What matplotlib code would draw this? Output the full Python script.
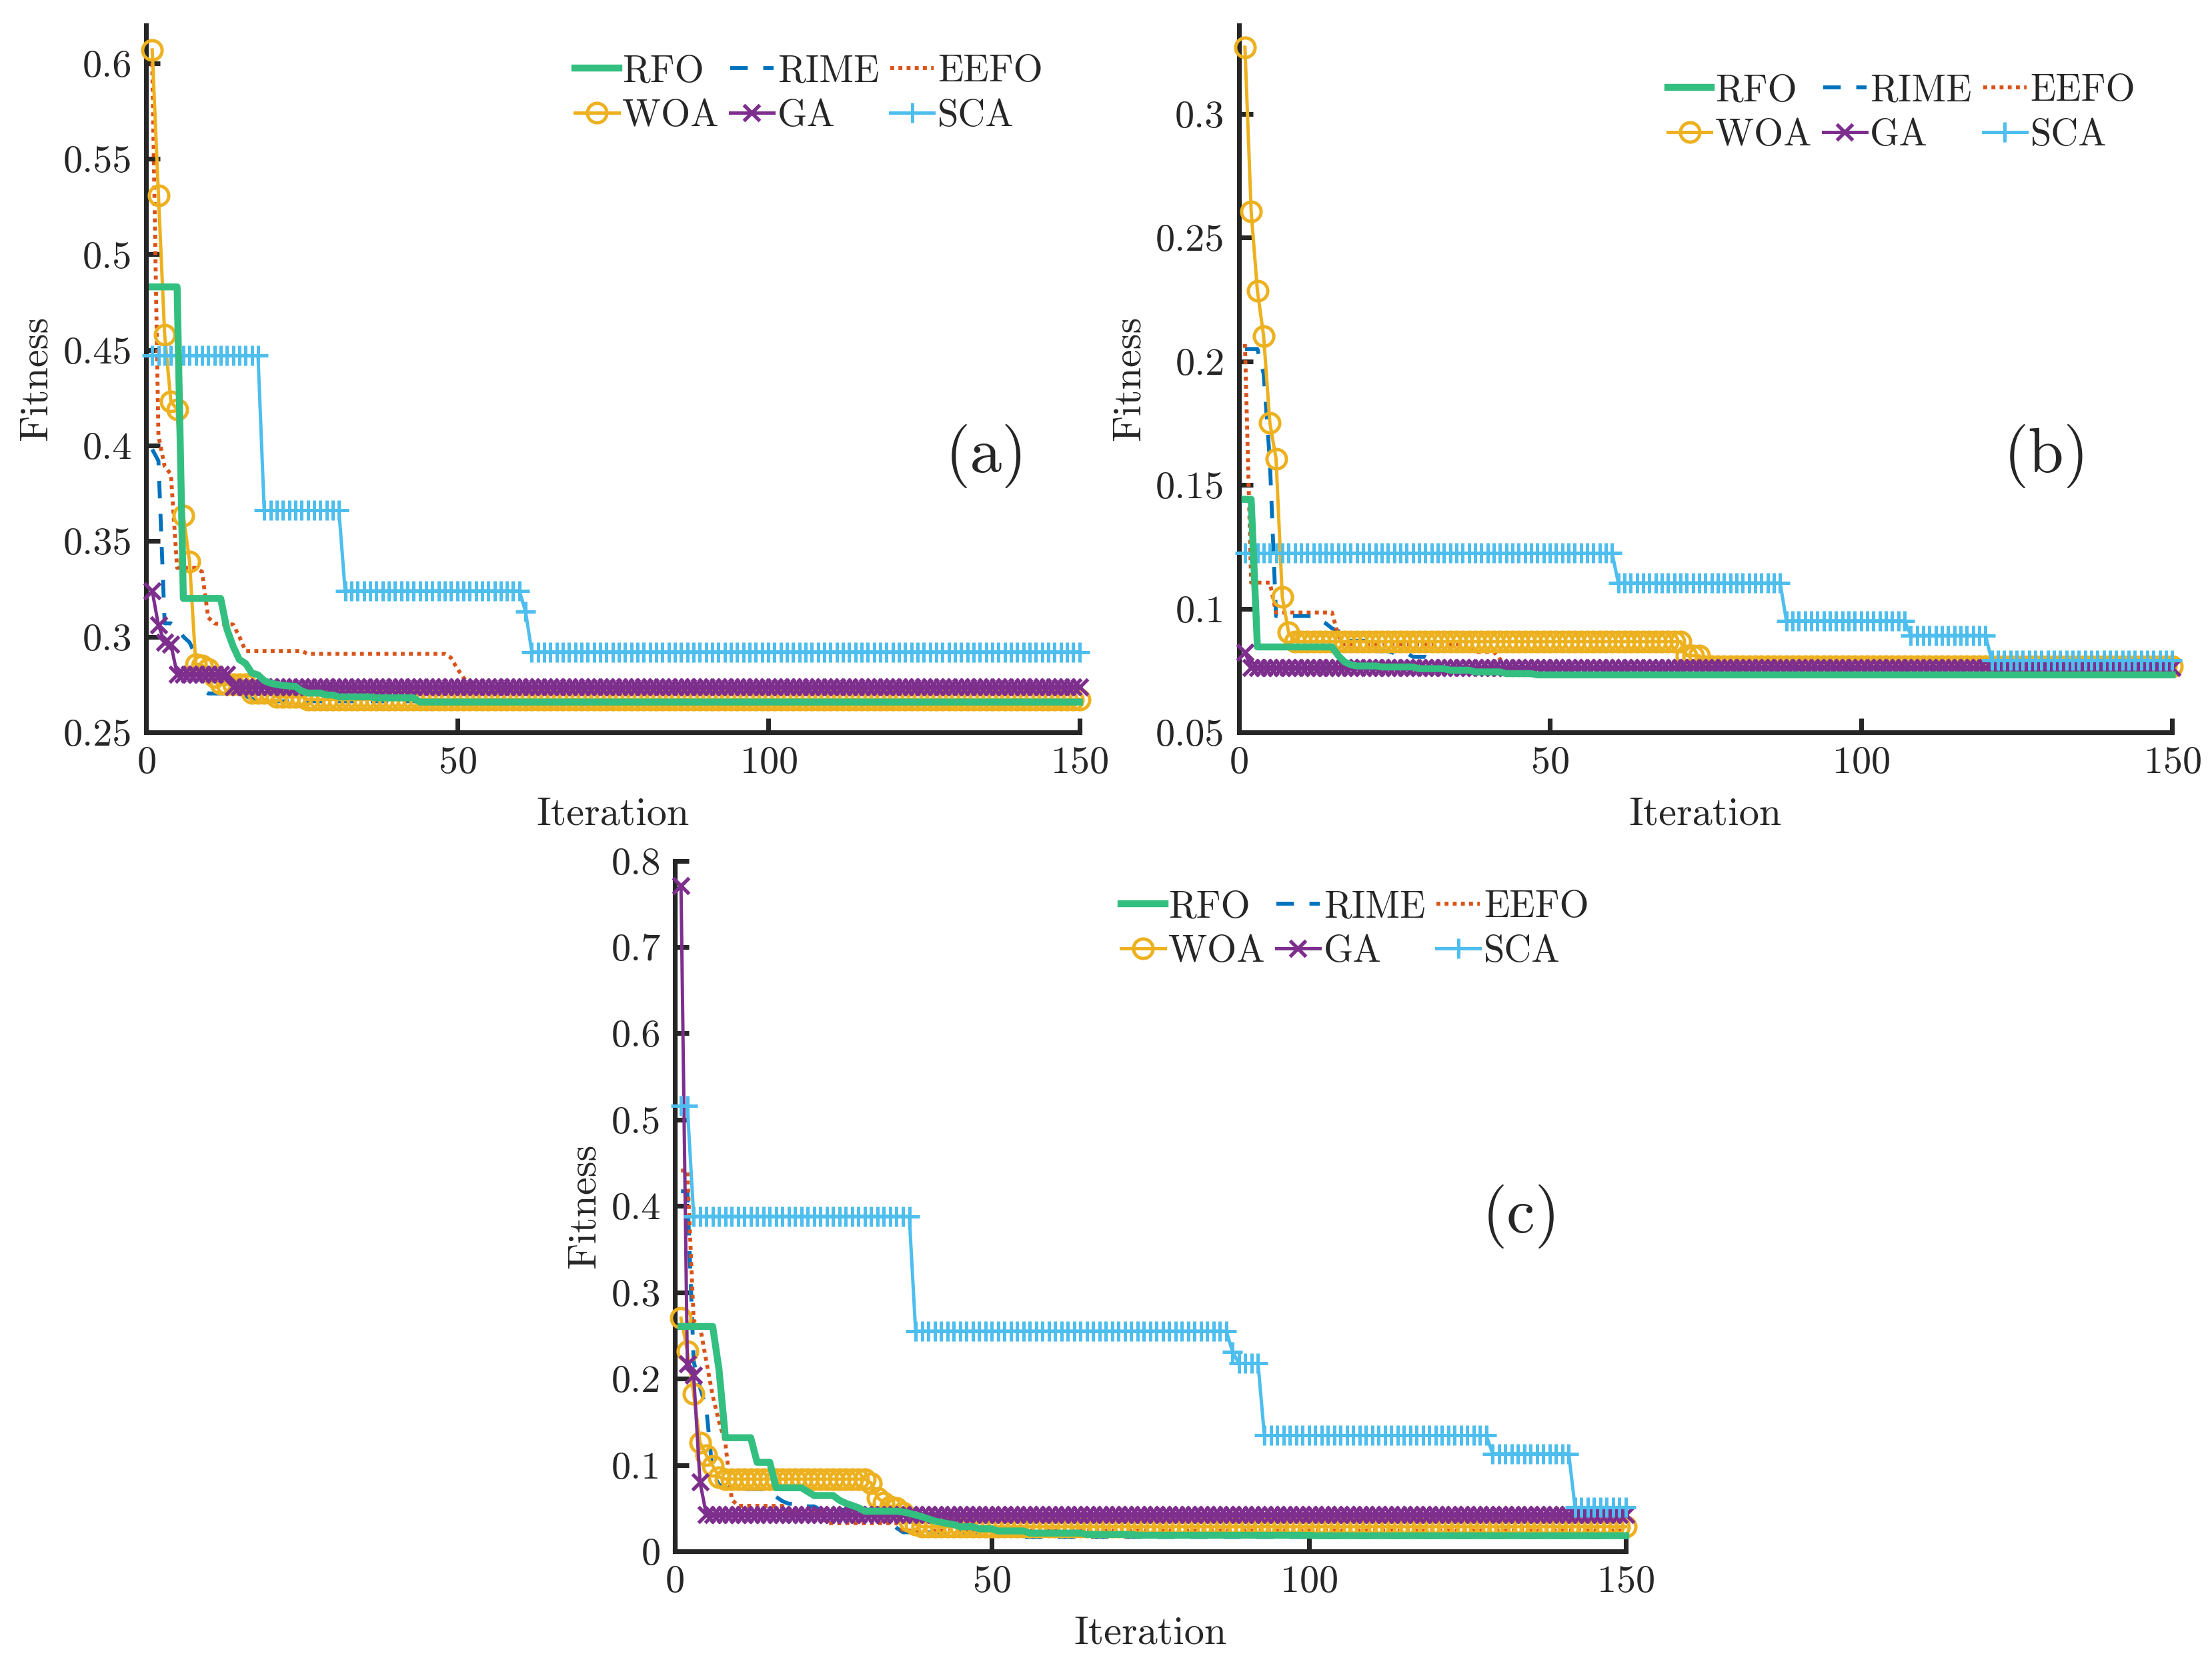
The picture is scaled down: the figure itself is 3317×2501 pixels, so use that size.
import numpy as np
import matplotlib
matplotlib.use("Agg")
import matplotlib.pyplot as plt
from matplotlib.ticker import FormatStrFormatter

plt.rcParams['font.family'] = 'cmr10'
plt.rcParams['mathtext.fontset'] = 'cm'
plt.rcParams['axes.unicode_minus'] = False
plt.rcParams['axes.formatter.use_mathtext'] = True

N_ITER = 150
iters = np.arange(1, N_ITER + 1)

# convergence curves, as (value, number of iterations) runs
# panel (a)
rfo_a = [(0.483, 5), (0.320, 7), (0.304, 1), (0.295, 1), (0.288, 1), (0.286, 1), (0.281, 1),
         (0.280, 1), (0.277, 1), (0.2757, 1), (0.275, 1), (0.2745, 1), (0.2742, 1), (0.274, 1),
         (0.2716, 1), (0.2705, 3), (0.2695, 2), (0.2685, 6), (0.268, 7), (0.2658, 1)]
rime_a = [(0.398, 1), (0.392, 1), (0.307, 2), (0.305, 1), (0.300, 1), (0.297, 1), (0.290, 1),
          (0.272, 1), (0.2703, 6), (0.269, 1), (0.2675, 1), (0.2662, 1)]
eefo_a = [(0.600, 1), (0.405, 1), (0.389, 1), (0.385, 1), (0.336, 4), (0.334, 1), (0.310, 1),
          (0.307, 1), (0.3064, 3), (0.300, 1), (0.2925, 10), (0.291, 23), (0.289, 1),
          (0.2834, 1), (0.2786, 1), (0.275, 1), (0.2735, 1)]
woa_a = [(0.607, 1), (0.531, 1), (0.458, 1), (0.423, 1), (0.419, 1), (0.3635, 1), (0.3394, 1),
         (0.2855, 1), (0.285, 1), (0.283, 1), (0.279, 1), (0.2755, 1), (0.275, 4),
         (0.2705, 4), (0.2685, 5), (0.2672, 1)]
ga_a = [(0.324, 1), (0.306, 1), (0.297, 1), (0.296, 1), (0.2805, 9), (0.2736, 1)]
sca_a = [(0.447, 18), (0.366, 13), (0.324, 29), (0.313, 1), (0.292, 1)]

# panel (b)
rfo_b = [(0.1442, 2), (0.0845, 13), (0.081, 1), (0.0785, 1), (0.0773, 1), (0.0768, 4),
         (0.0764, 6), (0.0757, 5), (0.0751, 4), (0.0744, 5), (0.0737, 5), (0.0732, 1)]
rime_b = [(0.205, 3), (0.195, 1), (0.160, 1), (0.097, 7), (0.0955, 1), (0.094, 1), (0.092, 1),
          (0.091, 1), (0.087, 5), (0.0828, 3), (0.082, 3), (0.0805, 3), (0.079, 1),
          (0.0785, 1), (0.0758, 1)]
eefo_b = [(0.207, 1), (0.1105, 4), (0.0984, 10), (0.089, 1), (0.0855, 21), (0.0825, 4),
          (0.0795, 1), (0.0758, 1)]
woa_b = [(0.327, 1), (0.2606, 1), (0.2286, 1), (0.2103, 1), (0.1752, 1), (0.1606, 1),
         (0.1048, 1), (0.0905, 1), (0.0867, 63), (0.081, 3), (0.0767, 1)]
ga_b = [(0.0824, 1), (0.0762, 1)]
sca_b = [(0.1224, 60), (0.1104, 27), (0.0951, 20), (0.0892, 13), (0.079, 1)]

# panel (c)
rfo_c = [(0.2604, 6), (0.21, 1), (0.1315, 5), (0.103, 3), (0.0735, 5), (0.069, 1), (0.0645, 4),
         (0.059, 1), (0.0555, 1), (0.053, 1), (0.0503, 1), (0.0464, 6), (0.0455, 1), (0.044, 1),
         (0.042, 1), (0.040, 1), (0.0375, 1), (0.035, 1), (0.0336, 1), (0.032, 1), (0.031, 1),
         (0.0284, 3), (0.026, 3), (0.0235, 5), (0.021, 9), (0.0195, 8), (0.0185, 28), (0.018, 1)]
rime_c = [(0.417, 2), (0.22, 1), (0.19, 1), (0.165, 1), (0.09, 1), (0.077, 1), (0.074, 1),
          (0.072, 6), (0.068, 1), (0.063, 1), (0.058, 1), (0.055, 2), (0.052, 3), (0.048, 11),
          (0.034, 1), (0.027, 1), (0.022, 17), (0.0165, 1)]
eefo_c = [(0.441, 2), (0.267, 1), (0.26, 1), (0.22, 1), (0.18, 1), (0.15, 1), (0.125, 1),
          (0.06, 1), (0.0525, 8), (0.047, 1), (0.045, 5), (0.0325, 12), (0.024, 1)]
woa_c = [(0.27, 1), (0.232, 1), (0.182, 1), (0.126, 1), (0.111, 1), (0.099, 1), (0.086, 1),
         (0.0835, 23), (0.079, 1), (0.062, 1), (0.056, 1), (0.052, 1), (0.05, 1), (0.045, 1),
         (0.035, 1), (0.031, 1), (0.0285, 1)]
ga_c = [(0.771, 1), (0.217, 1), (0.204, 1), (0.080, 1), (0.0425, 1)]
sca_c = [(0.516, 2), (0.388, 35), (0.255, 50), (0.2307, 1), (0.2176, 4), (0.134, 36),
         (0.113, 13), (0.0507, 1)]

names = ['RFO', 'RIME', 'EEFO', 'WOA', 'GA', 'SCA']
panel_tags = ['(a)', '(b)', '(c)']


def expand(pairs):
    vals = []
    for v, n in pairs:
        vals += [v] * n
    # last value holds to the final iteration
    vals += [pairs[-1][0]] * (N_ITER - len(vals))
    return np.array(vals[:N_ITER])


text_col = '#262626'
styles = {
    'RFO':  dict(color='#33BF80', lw=2.5, ls='-', zorder=7),
    'RIME': dict(color='#0072BD', lw=1.4, ls=(0, (4.5, 4)), zorder=2),
    'EEFO': dict(color='#D95319', lw=1.4, ls=(0, (1, 1.1)), zorder=3, dash_capstyle='butt'),
    'WOA':  dict(color='#EDB120', lw=1.2, ls='-', marker='o', ms=7.0, mfc='none', mew=1.2, zorder=4),
    'GA':   dict(color='#7E2F8E', lw=1.2, ls='-', marker='x', ms=5.6, mew=1.3, zorder=5),
    'SCA':  dict(color='#4DBEEE', lw=1.2, ls='-', marker='+', ms=7.0, mew=1.2, zorder=6),
}

panels = [
    dict(pos=[0.066, 0.561, 0.422, 0.424], ylim=(0.25, 0.62),
         yticks=np.arange(0.25, 0.601, 0.05), tag_xy=(0.90, 0.39),
         leg=(0.985, 0.99), data=[rfo_a, rime_a, eefo_a, woa_a, ga_a, sca_a]),
    dict(pos=[0.560, 0.561, 0.422, 0.424], ylim=(0.05, 0.336),
         yticks=np.arange(0.05, 0.301, 0.05), tag_xy=(0.865, 0.39),
         leg=(0.985, 0.963), data=[rfo_b, rime_b, eefo_b, woa_b, ga_b, sca_b]),
    dict(pos=[0.305, 0.070, 0.430, 0.414], ylim=(0, 0.8),
         yticks=np.arange(0, 0.801, 0.1), tag_xy=(0.89, 0.485),
         leg=(0.985, 0.99), data=[rfo_c, rime_c, eefo_c, woa_c, ga_c, sca_c]),
]

fig = plt.figure(figsize=(3317 / 300, 2501 / 300), dpi=300)

for p, tag in zip(panels, panel_tags):
    ax = fig.add_axes(p['pos'])
    handles = {}
    for name, runs in zip(names, p['data']):
        ln, = ax.plot(iters, expand(runs), label=name, clip_on=False, **styles[name])
        handles[name] = ln

    ax.set_xlim(0, 150)
    ax.set_ylim(*p['ylim'])
    ax.set_xticks([0, 50, 100, 150])
    ax.set_yticks(p['yticks'])
    ax.yaxis.set_major_formatter(FormatStrFormatter('%g'))
    ax.spines['top'].set_visible(False)
    ax.spines['right'].set_visible(False)
    for s in ['left', 'bottom']:
        ax.spines[s].set_linewidth(1.7)
        ax.spines[s].set_color(text_col)
    ax.tick_params(direction='in', length=5, width=1.7, labelsize=14,
                   colors=text_col, pad=5)
    ax.set_xlabel('Iteration', fontsize=14.5, color=text_col, labelpad=6)
    ax.set_ylabel('Fitness', fontsize=14.5, color=text_col, labelpad=3)
    ax.text(p['tag_xy'][0], p['tag_xy'][1], tag, transform=ax.transAxes,
            fontsize=23, ha='center', va='center', color=text_col)

    # row-major order RFO RIME EEFO / WOA GA SCA
    order = ['RFO', 'WOA', 'RIME', 'GA', 'EEFO', 'SCA']
    ax.legend([handles[n] for n in order], order, ncol=3, frameon=False,
              loc='upper right', bbox_to_anchor=p['leg'], fontsize=13.6,
              handlelength=1.15, handletextpad=0.1, columnspacing=0.3,
              labelspacing=0.28, borderaxespad=0.2, labelcolor=text_col)

fig.savefig('out.png', dpi=300)
